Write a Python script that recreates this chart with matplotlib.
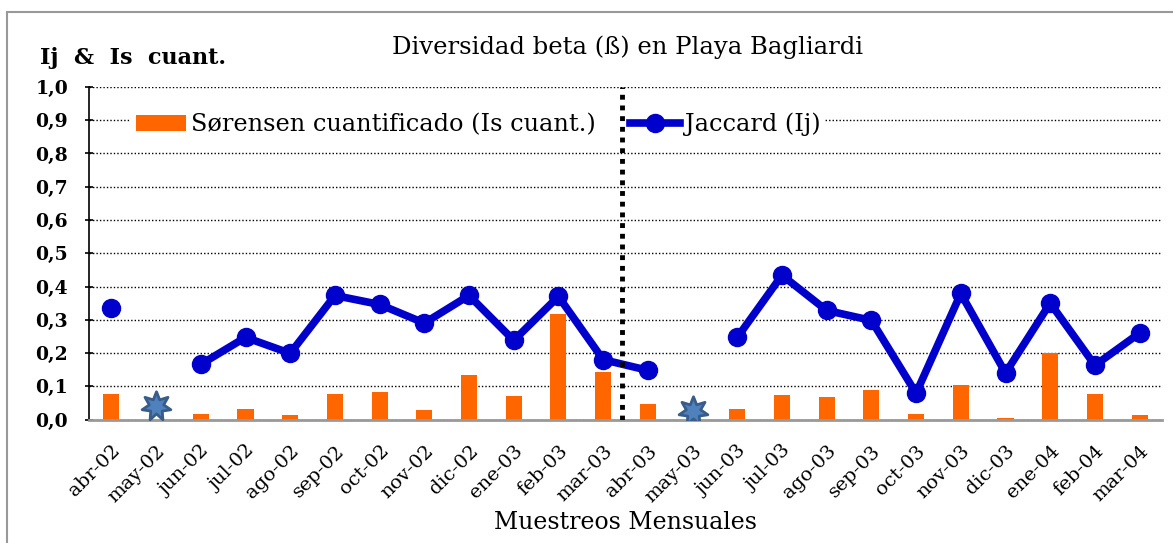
import numpy as np
import matplotlib
matplotlib.use("Agg")
import matplotlib.pyplot as plt
from matplotlib.patches import Rectangle
from matplotlib.ticker import FuncFormatter

# Monthly samplings
months = ["abr-02", "may-02", "jun-02", "jul-02", "ago-02", "sep-02", "oct-02", "nov-02",
          "dic-02", "ene-03", "feb-03", "mar-03", "abr-03", "may-03", "jun-03", "jul-03",
          "ago-03", "sep-03", "oct-03", "nov-03", "dic-03", "ene-04", "feb-04", "mar-04"]

sorensen = [0.077, 0.0, 0.017, 0.032, 0.015, 0.077, 0.084, 0.028, 0.135, 0.070, 0.316, 0.142,
            0.046, 0.0, 0.033, 0.074, 0.068, 0.090, 0.018, 0.103, 0.004, 0.199, 0.077, 0.015]

jaccard = [0.334, np.nan, 0.166, 0.247, 0.199, 0.373, 0.346, 0.290, 0.373, 0.238, 0.370, 0.180,
           0.148, np.nan, 0.247, 0.434, 0.328, 0.298, 0.079, 0.379, 0.140, 0.350, 0.163, 0.260]

# months without sampling (star marks)
star_months = ["may-02", "may-03"]
star_values = [0.040, 0.027]

plt.rcParams['font.family'] = ['DejaVu Serif']

fig = plt.figure(figsize=(11.73, 5.43), dpi=100)
ax = fig.add_axes([0.0759, 0.2274, 0.9147, 0.6124])

x = np.arange(len(months))
ax.bar(x, sorensen, width=0.36, color="#ff6600", zorder=2,
       label="Sørensen cuantificado (Is cuant.)")
ax.plot(x, jaccard, color="#0000cc", lw=5.5, marker="o", markersize=13, zorder=3,
        label="Jaccard (Ij)")

sx = [months.index(m) for m in star_months]
ax.scatter(sx, star_values, marker=(7, 1, 0), s=450, color="#4f81bd",
           edgecolor="#385d8a", linewidth=2, zorder=4)

# separation between the two sampling years
ax.plot([11.43, 11.43], [0, 1.0], color="black", lw=3.5, linestyle=(0, (1, 1.2)), zorder=6)

ax.set_xlim(-0.5, len(months) - 0.5)
ax.set_ylim(0, 1.0)
ax.set_yticks(np.arange(0, 1.01, 0.1))
ax.yaxis.set_major_formatter(FuncFormatter(lambda v, p: f"{v:.1f}".replace(".", ",")))
ax.yaxis.grid(True, color="black", linestyle=(0, (1, 1.5)), lw=1.0, zorder=0)
ax.set_axisbelow(True)

ax.set_xticks(x)
ax.set_xticklabels(months, rotation=45, ha="right", rotation_mode="anchor", fontsize=14)
ax.tick_params(axis="x", length=0, pad=16)
ax.tick_params(axis="y", labelsize=13.5, length=6, direction="inout", width=1.2, pad=12)
for lab in ax.get_yticklabels():
    lab.set_fontweight("bold")

for s in ["top", "right"]:
    ax.spines[s].set_visible(False)
ax.spines["left"].set_color("black")
ax.spines["left"].set_linewidth(1.2)
ax.spines["bottom"].set_color("#999999")
ax.spines["bottom"].set_linewidth(2)

ax.set_xlabel("Muestreos Mensuales", fontsize=17, labelpad=4)
fig.text(0.535, 0.913, "Diversidad beta (ß) en Playa Bagliardi", ha="center", va="center",
         fontsize=17.5)
fig.text(0.034, 0.893, "Ij  &  Is  cuant.", ha="left", va="center", fontsize=16,
         fontweight="bold")

h, l = ax.get_legend_handles_labels()
leg = ax.legend(h[::-1], l[::-1], loc="center left", bbox_to_anchor=(0.028, 0.887), ncol=2,
                fontsize=17.3, frameon=True, framealpha=1, edgecolor="white", borderpad=0.2,
                handlelength=2.1, columnspacing=1.4, handletextpad=0.2)
leg.get_frame().set_linewidth(0)

# outer chart border
fig.patches.append(Rectangle((0.006, -0.05), 1.2, 1.027, transform=fig.transFigure,
                             fill=False, edgecolor="#999999", lw=1.5))

fig.savefig("out.png", dpi=100)
